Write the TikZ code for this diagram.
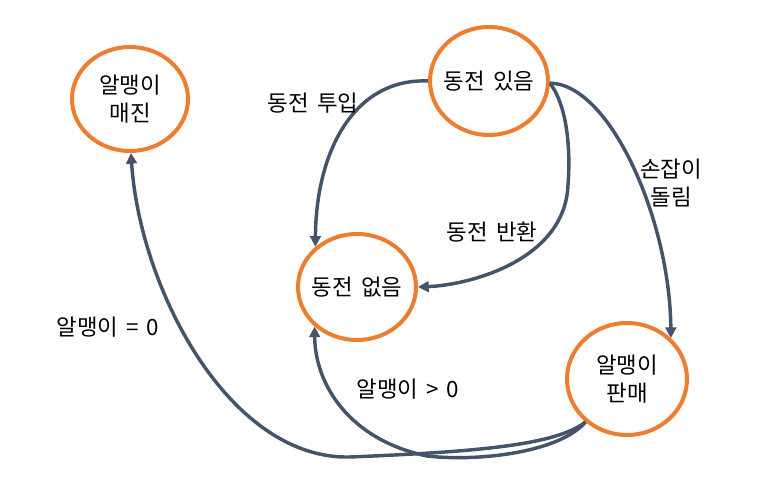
\documentclass[tikz,border=0pt]{standalone}
\usepackage{fontspec}
\setmainfont[WordSpace=1.6]{Noto Sans CJK KR}
\usetikzlibrary{shapes.geometric,arrows.meta}
\definecolor{ring}{HTML}{ED7D31}
\definecolor{edgec}{HTML}{44546A}
\begin{document}
\begin{tikzpicture}[x=0.75pt,y=-0.75pt,
  state/.style={ellipse, draw=ring, line width=3pt, fill=white,
    inner xsep=-30pt, inner ysep=-10pt,
    minimum width=88.5pt, minimum height=80pt, align=center,
    font=\fontsize{16.8}{20.5}\selectfont},
  conn/.style={draw=edgec, line width=2.6pt, -{Triangle[length=8pt,width=8pt]}},
  lbl/.style={align=center, font=\fontsize{16.8}{20.5}\selectfont}]
\useasboundingbox (0,0) rectangle (757,484);
\node[state, minimum width=87pt, minimum height=78pt] (empty) at (130,99) {알맹이\\매진};
\node[state, minimum height=81pt] (have) at (489,81) {동전 있음};
\node[state, minimum height=79.5pt] (none) at (357,287) {동전 없음};
\node[state, minimum width=90pt, minimum height=84pt] (sell) at (627,379) {알맹이\\판매};

\draw[conn] (have.180) .. controls (355,78) and (316,150) .. (none.136);
\draw[conn] (have.-2) .. controls (570,110) and (570,160) .. (568,185)
   .. controls (565,260) and (470,285) .. (none.0);
\draw[conn] (have.-2) .. controls (610,84) and (670,220) .. (sell.43);
\draw[conn] (sell.226) .. controls (555,446) and (470,452) .. (350,457)
   .. controls (230,460) and (140,290) .. (empty.271);
\draw[conn] (sell.226) .. controls (560,452) and (480,462) .. (427,456)
   .. controls (350,440) and (315,385) .. (none.223);

\node[lbl] (l1) at (313,103) {동전 투입};
\node[lbl] (l2) at (492,232) {동전 반환};
\node[lbl] (l3) at (671,183) {손잡이\\돌림};
\node[lbl] (l4) at (108,327) {알맹이 = 0};
\node[lbl] (l5) at (408,389) {알맹이 > 0};
\end{tikzpicture}
\end{document}
